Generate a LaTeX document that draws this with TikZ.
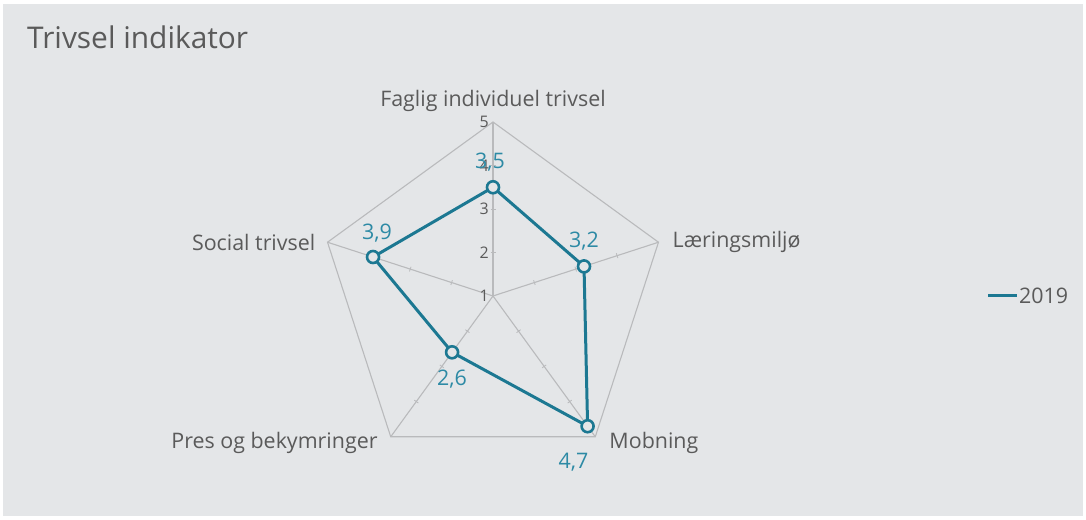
\documentclass[tikz,border=0pt]{standalone}
\usepackage{fontspec}
\setmainfont{Open Sans}
\usetikzlibrary{positioning}
\definecolor{chartbg}{RGB}{228,230,232}
\definecolor{gridgray}{RGB}{185,186,188}
\definecolor{textgray}{RGB}{90,90,90}
\definecolor{seriesteal}{RGB}{28,120,146}
\definecolor{valueteal}{RGB}{45,138,165}
\tikzset{
	titletext/.style = {
		font=\fontsize{30}{36}\selectfont,
		text=textgray,
		inner sep=0pt
	},
	axislabel/.style = {
		font=\fontsize{21.5}{26}\selectfont,
		text=textgray,
		inner sep=2bp
	},
	ticklabel/.style = {
		font=\fontsize{16}{19}\selectfont,
		text=textgray,
		inner sep=1bp,
		anchor=east
	},
	valuelabel/.style = {
		font=\fontsize{21.5}{26}\selectfont,
		text=valueteal,
		inner sep=1bp
	},
	gridline/.style = {
		draw=gridgray,
		line width=1.1bp
	},
	series/.style = {
		draw=seriesteal,
		line width=3bp,
		line join=round
	},
	marker/.style = {
		circle,
		draw=seriesteal,
		fill=chartbg,
		line width=2.6bp,
		minimum size=12bp,
		inner sep=0pt
	},
}

\begin{document}
\begin{tikzpicture}[x=1bp,y=1bp]
\useasboundingbox (0,0) rectangle (1086,520);
\fill[white] (0,0) rectangle (1086,520);
\fill[chartbg] (3,4) rectangle (1083,516);
\node[titletext, anchor=west] (title) at (27,483) {Trivsel indikator};
\coordinate (c) at (493,224);
% spokes and ticks
\foreach \a [count=\i] in {90,18,-54,-126,162} {
	\coordinate (v\i) at ([shift={(\a:174)}]c);
	\draw[gridline] (c) -- (v\i);
	\foreach \r in {43.5,87,130.5} {
		\draw[draw=gridgray, line width=0.8bp]
			([shift={(\a:\r)}]c) ++(\a+90:2.5) -- ++(\a-90:5);
	}
}
\draw[gridline] (v1) -- (v2) -- (v3) -- (v4) -- (v5) -- cycle;
% scale on the first axis
\foreach \t in {1,...,5} {
	\node[ticklabel] (t\t) at ([shift={(-3,{(\t-1)*43.5})}]c) {\t};
}
% axis labels
\node[axislabel, above=8bp of v1] (ax1) {Faglig individuel trivsel};
\node[axislabel, right=12bp of v2] (ax2) {Læringsmiljø};
\node[axislabel, right=12bp of v3, yshift=-6bp] (ax3) {Mobning};
\node[axislabel, left=11bp of v4, yshift=-6bp] (ax4) {Pres og bekymringer};
\node[axislabel, left=10bp of v5] (ax5) {Social trivsel};
% series 2019
\foreach \a/\v [count=\i] in {90/3.5,18/3.2,-54/4.7,-126/2.6,162/3.9} {
	\coordinate (p\i) at ([shift={(\a:{(\v-1)*43.5})}]c);
}
\draw[series] (p1) -- (p2) -- (p3) -- (p4) -- (p5) -- cycle;
\foreach \i in {1,...,5} {
	\node[marker] (m\i) at (p\i) {};
}
\node[valuelabel, above=7bp of m1, xshift=-3bp] (d1) {3,5};
\node[valuelabel, above=8bp of m2] (d2) {3,2};
\node[valuelabel, below=18bp of m3, xshift=-14bp] (d3) {4,7};
\node[valuelabel, below=9bp of m4] (d4) {2,6};
\node[valuelabel, above=6bp of m5, xshift=4bp] (d5) {3,9};
% legend
\node[axislabel, anchor=west] (leg) at (1017,224) {2019};
\coordinate (legstart) at (988,224);
\draw[series] (legstart) -- (leg.west);
\end{tikzpicture}
\end{document}
